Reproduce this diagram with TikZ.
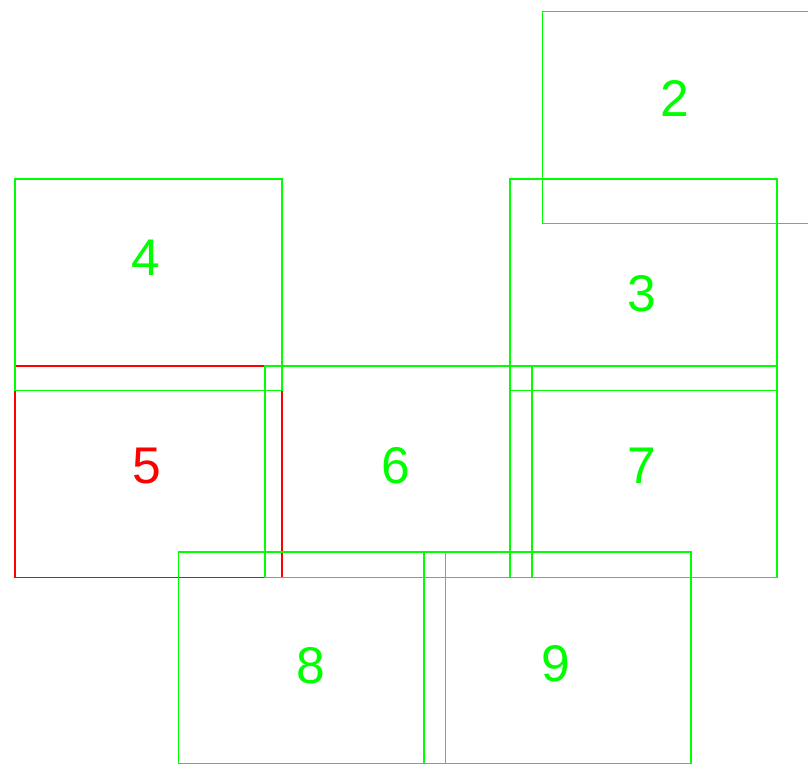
\documentclass[tikz,border=0pt]{standalone}
\usepackage{fontspec}
\setmainfont{Liberation Sans}
\definecolor{lgreen}{RGB}{0,255,0}
\definecolor{lred}{RGB}{255,0,0}
\begin{document}
\begin{tikzpicture}[x=1pt,y=-1pt,
  box/.style={draw=lgreen,line width=1.5pt,minimum width=267pt,minimum height=211.5pt,anchor=north west,inner sep=0pt},
  redbox/.style={box,draw=lred},
  lab/.style={text=lgreen,font=\fontsize{51.6}{60}\selectfont,anchor=base,inner sep=0pt},
  redlab/.style={lab,text=lred}]
\useasboundingbox (0,0) rectangle (808,773);
\node[redbox] (b5) at (14,365) {};
\node[box] (b2) at (541.7,11) {};
\node[box] (b4) at (14,178) {};
\node[box] (b3) at (509,178) {};
\node[box] (b6) at (264,365) {};
\node[box] (b7) at (509,365) {};
\node[box] (b8) at (177.7,551) {};
\node[box] (b9) at (423.3,551) {};
\node[lab] (t2) at (675,116.7) {2};
\node[lab] (t4) at (146,275.5) {4};
\node[lab] (t3) at (642,311.5) {3};
\node[redlab] (t5) at (147,483.5) {5};
\node[lab] (t6) at (396,483.5) {6};
\node[lab] (t7) at (642,483.5) {7};
\node[lab] (t8) at (311,683.5) {8};
\node[lab] (t9) at (556,681.5) {9};
\end{tikzpicture}
\end{document}
